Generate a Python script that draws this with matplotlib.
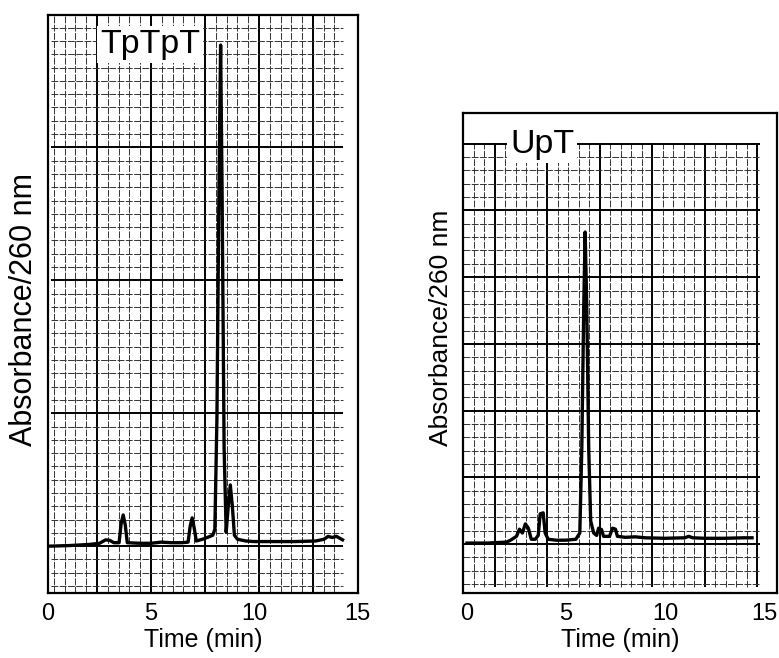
import numpy as np
import matplotlib
matplotlib.use("Agg")
import matplotlib.pyplot as plt

plt.rcParams['font.family'] = ['Liberation Sans', 'DejaVu Sans']

# chromatogram traces (time in min, absorbance in arb. units)
tptpt_time = [0.0, 1.0, 2.0, 2.5, 2.8, 3.0, 3.2, 3.45, 3.55, 3.65, 3.75, 3.85,
              4.5, 5.0, 5.5, 6.0, 6.5, 6.8, 6.9, 7.0, 7.1, 7.2, 7.5, 7.8, 8.0,
              8.1, 8.2, 8.3, 8.38, 8.45, 8.55, 8.65, 8.75, 8.85, 8.95, 9.05,
              9.2, 9.6, 10.0, 11.0, 12.0, 13.0, 13.4, 13.6, 13.8, 14.0, 14.2, 14.3]
tptpt_abs = [0.081, 0.082, 0.084, 0.086, 0.092, 0.091, 0.087, 0.087, 0.120, 0.135,
             0.118, 0.087, 0.086, 0.086, 0.088, 0.087, 0.087, 0.088, 0.115, 0.130,
             0.112, 0.090, 0.093, 0.097, 0.100, 0.110, 0.300, 0.700, 0.948, 0.700,
             0.250, 0.105, 0.150, 0.187, 0.150, 0.100, 0.093, 0.090, 0.089, 0.089,
             0.089, 0.090, 0.093, 0.098, 0.096, 0.098, 0.094, 0.092]

upt_time = [0.0, 1.0, 2.0, 2.2, 2.5, 2.65, 2.8, 2.95, 3.1, 3.25, 3.45, 3.6, 3.7,
            3.85, 3.95, 4.1, 4.5, 5.0, 5.5, 5.7, 5.8, 5.9, 5.97, 6.05, 6.15, 6.25,
            6.4, 6.55, 6.65, 6.8, 6.9, 7.2, 7.35, 7.5, 7.6, 8.0, 8.5, 9.0, 10.0,
            11.0, 11.2, 11.4, 12.0, 13.0, 14.0, 14.4]
upt_abs = [0.104, 0.104, 0.106, 0.110, 0.118, 0.133, 0.125, 0.144, 0.135, 0.112,
           0.112, 0.120, 0.165, 0.167, 0.125, 0.112, 0.110, 0.110, 0.112, 0.125,
           0.300, 0.600, 0.752, 0.600, 0.300, 0.150, 0.125, 0.120, 0.135, 0.132,
           0.118, 0.118, 0.135, 0.133, 0.118, 0.116, 0.117, 0.115, 0.114, 0.115,
           0.118, 0.115, 0.114, 0.114, 0.115, 0.115]

xticks = [0, 5, 10, 15]

MINOR = dict(colors='0.2', lw=0.7, linestyles=(0, (7, 1.5)), zorder=1)
MAJOR = dict(colors='black', lw=1.4, linestyles='solid', zorder=1)


def drawPaper(ax, x0, x1, y0, y1, xMajor, xStep, yMajor, yStep, yEvery):
    # chart-recorder graph paper behind the trace
    xs = np.arange(xMajor - 20 * xStep, x1 + 1e-6, xStep)
    for i, x in enumerate(xs):
        if x < x0:
            continue
        ax.vlines(x, y0, y1, **(MAJOR if i % 5 == 0 else MINOR))
    ys = np.arange(yMajor - 4 * yEvery * yStep, y1 + 1e-6, yStep)
    for i, y in enumerate(ys):
        if y < y0:
            continue
        ax.hlines(y, x0, x1, **(MAJOR if i % yEvery == 0 else MINOR))


def stylePanel(ax, xlim, name, nameX, nameY, labelSize, labelCoords):
    ax.set_xlim(*xlim)
    ax.set_ylim(0, 1)
    ax.set_xticks(xticks)
    ax.set_yticks([])
    ax.tick_params(axis='x', length=0, pad=7, labelsize=17)
    for s in ax.spines.values():
        s.set_linewidth(1.6)
    ax.set_xlabel("Time (min)", fontsize=18, labelpad=2)
    ax.set_ylabel("Absorbance/260 nm", fontsize=labelSize, va='center')
    ax.yaxis.set_label_coords(*labelCoords)
    ax.text(nameX, nameY, name, transform=ax.transAxes, fontsize=24.5,
            ha='left', va='baseline', zorder=4,
            bbox=dict(facecolor='white', edgecolor='none', pad=2))


fig = plt.figure(figsize=(7.79, 6.58), dpi=100)

# left panel: TpTpT
axL = fig.add_axes([48 / 779, 1 - 593 / 658, 310 / 779, 578 / 658])
drawPaper(axL, 0.15, 14.3, 0.0, 1.0, 7.62, 0.524, 0.081, 0.023, 10)
axL.plot(tptpt_time, tptpt_abs, color='black', lw=2.4, zorder=3,
         solid_joinstyle='round')
stylePanel(axL, (0, 15.05), "TpTpT", (100 - 48) / 310, (593 - 53) / 578, 22,
           (-0.077, 0.49))

# right panel: UpT
axR = fig.add_axes([463 / 779, 1 - 593 / 658, 314 / 779, 480 / 658])
drawPaper(axR, -0.2, 14.8, 0.012, 0.9375, 6.7, 0.53, 0.102, 0.0278, 5)
axR.plot(upt_time, upt_abs, color='black', lw=2.4, zorder=3,
         solid_joinstyle='round')
stylePanel(axR, (-0.2, 15.66), "UpT", (510 - 463) / 314, (593 - 153) / 480, 19,
           (-0.07, 0.552))

fig.savefig("out.png", dpi=100)
